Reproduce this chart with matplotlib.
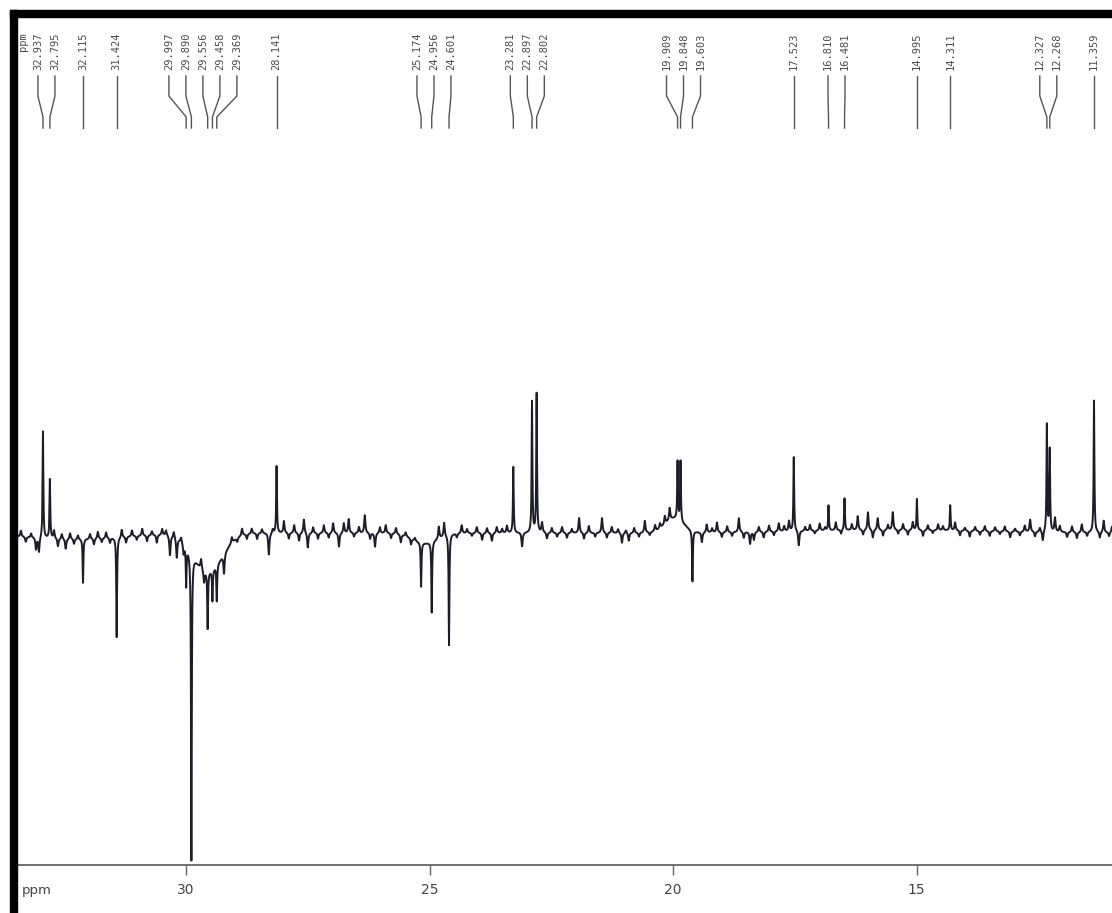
import numpy as np
import matplotlib.pyplot as plt
from matplotlib.patches import Rectangle
from matplotlib.transforms import blended_transform_factory

# picked peaks (ppm) and their signed intensities (DEPT: CH/CH3 up, CH2 down)
peak_ppm = [32.937, 32.795, 32.115, 31.424, 29.997, 29.890, 29.556, 29.458, 29.369,
            28.141, 25.174, 24.956, 24.601, 23.281, 22.897, 22.802, 19.909, 19.848,
            19.603, 17.523, 16.810, 16.481, 14.995, 14.311, 12.327, 12.268, 11.359]
peak_int = [107, 59, -44, -100, -39, -307, -57, -31, -36,
            67, -44, -71, -111, 66, 131, 139, 58, 60,
            -51, 74, 25, 32, 31, 25, 107, 82, 132]

# slow baseline drift: centre, height, width
drift_ppm = [32.3, 29.55, 25.1, 19.98, 15.5]
drift_int = [-6, -38, -10, 14, 3]
drift_fwhm = [2.5, 0.7, 0.6, 0.45, 5.0]

# small unassigned wiggles along the baseline
noise_ppm = [33.39, 33.29, 33.18, 33.08, 33.02, 32.71, 32.63, 32.55, 32.47, 32.38,
             32.30, 32.22, 31.97, 31.89, 31.81, 31.73, 31.64, 31.56, 31.32, 31.23,
             31.11, 31.01, 30.90, 30.80, 30.70, 30.60, 30.49, 30.41, 30.33, 30.25,
             30.19, 30.10, 30.05, 29.69, 29.63, 29.22, 29.06, 28.95, 28.85, 28.75,
             28.65, 28.54, 28.44, 28.30, 28.22, 27.99, 27.89, 27.78, 27.68, 27.58,
             27.50, 27.39, 27.29, 27.17, 27.07, 26.98, 26.86, 26.76, 26.66, 26.55,
             26.45, 26.33, 26.22, 26.12, 26.02, 25.90, 25.79, 25.69, 25.59, 25.49,
             25.38, 25.30, 24.81, 24.70, 24.44, 24.34, 24.23, 24.13, 24.03, 23.92,
             23.82, 23.72, 23.62, 23.51, 23.41, 23.10, 22.69, 22.59, 22.49, 22.38,
             22.28, 22.18, 22.08, 21.93, 21.83, 21.73, 21.60, 21.46, 21.36, 21.26,
             21.13, 21.05, 20.97, 20.91, 20.80, 20.70, 20.58, 20.48, 20.37, 20.27,
             20.17, 20.07, 19.41, 19.31, 19.20, 19.10, 19.00, 18.89, 18.79, 18.65,
             18.55, 18.42, 18.34, 18.24, 18.14, 18.03, 17.93, 17.83, 17.72, 17.62,
             17.42, 17.29, 17.19, 17.09, 16.99, 16.88, 16.66, 16.55, 16.33, 16.21,
             16.10, 16.00, 15.90, 15.80, 15.69, 15.59, 15.49, 15.38, 15.28, 15.18,
             15.08, 14.87, 14.77, 14.67, 14.56, 14.46, 14.21, 14.11, 14.01, 13.91,
             13.80, 13.70, 13.60, 13.50, 13.39, 13.29, 13.19, 13.08, 12.98, 12.88,
             12.78, 12.67, 12.57, 12.47, 12.41, 12.16, 12.06, 11.91, 11.81, 11.71,
             11.61, 11.50, 11.24, 11.16, 11.05, 10.99]
noise_int = [6, -5, 4, -12, -15, 8, -8, 5, -10, 6,
             -5, 4, 5, -6, 7, -4, 6, -5, 8, -6,
             6, -4, 7, -6, 4, -8, 6, 5, -20, 6,
             -20, 5, -10, 10, -12, -20, 6, -4, 7, -5,
             5, -6, 4, -22, 4, 12, -6, 8, -8, 14,
             -15, 6, -6, 8, -5, 10, -14, 10, 14, -4,
             6, 18, -6, -14, 6, 8, -5, 6, -8, 4,
             -6, 3, 12, 14, -4, 8, 4, -3, 6, -7,
             5, -8, 6, 4, 7, -14, 10, -6, 5, -4,
             6, -5, 4, 15, -6, 7, -4, 15, -5, 6,
             4, -10, 3, -8, 5, -4, 12, -3, 6, 5,
             8, 12, -10, 8, 4, 10, -5, 6, -4, 14,
             -6, -12, -8, 5, -6, 6, -4, 8, 5, 10,
             -15, 4, 6, -3, 7, 3, 8, -4, 6, 14,
             -5, 18, -8, 12, -6, 5, 18, -4, 6, -5,
             8, -6, 5, -3, 6, 4, 8, -5, 3, -6,
             4, -4, 5, -5, 4, -3, 5, -6, 3, -4,
             6, 12, -5, 4, -10, 14, 6, -5, 6, -6,
             8, -4, -6, 12, -4, 6]

x_ticks = [30, 25, 20, 15]


def lorentz(x, c, h, w):
    return h * (w / 2) ** 2 / ((x - c) ** 2 + (w / 2) ** 2)


def gauss(x, c, h, w):
    return h * np.exp(-4 * np.log(2) * (x - c) ** 2 / w ** 2)


# build the trace; peak centres are included in the grid so tops land exactly
x = np.union1d(np.linspace(10.9, 33.5, 7000), peak_ppm)
y = np.zeros_like(x)
for c, h, w in zip(drift_ppm, drift_int, drift_fwhm):
    y += gauss(x, c, h, w)
for c, h in zip(noise_ppm, noise_int):
    y += lorentz(x, c, h, 0.028)
for c, h in zip(peak_ppm, peak_int):
    y += lorentz(x, c, h, 0.018)

W, H = 1112, 913
fig = plt.figure(figsize=(W / 100, H / 100), dpi=100)
fig.patch.set_facecolor('white')

def fx(px):
    return px / W

def fy(py):
    return 1 - py / H

ax = fig.add_axes([fx(18), fy(865), fx(W - 18), (865 - 130) / H])
ax.plot(x, y, color='#1d1d2a', lw=1.4)
ax.set_xlim(33.45, 10.99)
ax.set_ylim(-332, 403)

for s in ['top', 'left', 'right']:
    ax.spines[s].set_visible(False)
ax.spines['bottom'].set_color('#666666')
ax.spines['bottom'].set_linewidth(1.3)
ax.set_yticks([])
ax.set_xticks(x_ticks)
ax.set_xticklabels([str(t) for t in x_ticks])
ax.tick_params(axis='x', direction='out', length=7, width=1, color='#666666',
               labelsize=10, labelcolor='#444444', pad=6)
fig.text(fx(22), fy(890), 'ppm', fontsize=9.5, color='#444444', va='center')

# peak labels with spread-out leader lines
gap = 17 / 48.71


def spread(vals, gap):
    groups = [[v] for v in vals]

    def layout(g):
        c = np.mean(g)
        n = len(g)
        return [c + gap * ((n - 1) / 2 - k) for k in range(n)]

    merged = True
    while merged:
        merged = False
        for i in range(len(groups) - 1):
            a = layout(groups[i])
            b = layout(groups[i + 1])
            if a[-1] - b[0] < gap:
                groups[i] = groups[i] + groups.pop(i + 1)
                merged = True
                break
    return [p for g in groups for p in layout(g)]


order = sorted(peak_ppm, reverse=True)
label_x = spread(order, gap)
tr = blended_transform_factory(ax.transData, fig.transFigure)
for p, lx in zip(order, label_x):
    ax.text(lx, fy(32), '%.3f' % p, rotation=90, transform=tr, ha='center', va='top',
            fontsize=7.5, family='DejaVu Sans Mono', color='#4a4a4a', clip_on=False)
    ax.plot([lx, lx, p, p], [fy(76), fy(96), fy(117), fy(128)], transform=tr,
            color='#555555', lw=1, clip_on=False)
fig.text(fx(23), fy(32), 'ppm', rotation=90, ha='center', va='top', fontsize=7.5,
         family='DejaVu Sans Mono', color='#4a4a4a')

# black frame edges from the scanned page
fig.patches.append(Rectangle((fx(10), fy(17)), fx(W - 10), 7 / H, transform=fig.transFigure,
                             color='black', zorder=10))
fig.patches.append(Rectangle((fx(10), 0), 7 / W, fy(10), transform=fig.transFigure,
                             color='black', zorder=10))

fig.savefig('out.png', dpi=100)
